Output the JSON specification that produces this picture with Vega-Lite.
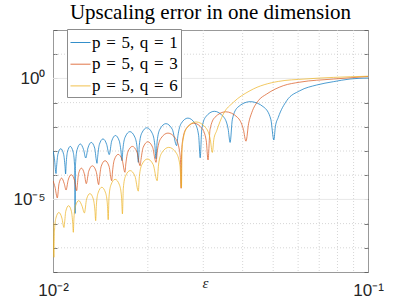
{
  "$schema": "https://vega.github.io/schema/vega-lite/v6.json",
  "width": 315,
  "height": 242,
  "autosize": {"type": "none"},
  "padding": {"left": 53, "top": 30, "right": 39, "bottom": 33},
  "background": "white",
  "title": {"text": "Upscaling error in one dimension", "font": "Liberation Serif", "fontSize": 21, "fontWeight": "normal", "color": "#000000", "anchor": "middle", "frame": "group", "baseline": "alphabetic", "offset": 3, "dy": 21.5},
  "config": {"view": {"stroke": "#999999", "strokeWidth": 1}},
  "datasets": {
    "ygrid": [{"y": 1e-7}, {"y": 1e-6}, {"y": 1e-4}, {"y": 1e-3}, {"y": 1e-2}, {"y": 1e-1}, {"y": 10}],
    "ymajor": [{"y": 1}, {"y": 1e-5}],
    "xgrid": [{"x": 0.02}, {"x": 0.03}, {"x": 0.04}, {"x": 0.05}, {"x": 0.06}, {"x": 0.07}, {"x": 0.08}, {"x": 0.09}],
    "curves": [
      {"e": 0.01, "v": 1.023e-3, "s": "q1"}, {"e": 0.010101, "v": 5.01e-4, "s": "q1"}, {"e": 0.010225, "v": 1.17e-4, "s": "q1"},
      {"e": 0.010267, "v": 2.33e-4, "s": "q1"}, {"e": 0.010365, "v": 7.31e-4, "s": "q1"}, {"e": 0.010582, "v": 1.245e-3, "s": "q1"},
      {"e": 0.010808, "v": 7.31e-4, "s": "q1"}, {"e": 0.010917, "v": 2.33e-4, "s": "q1"}, {"e": 0.010965, "v": 1.122e-4, "s": "q1"},
      {"e": 0.011009, "v": 2.9e-4, "s": "q1"}, {"e": 0.011113, "v": 9.1e-4, "s": "q1"}, {"e": 0.011344, "v": 1.549e-3, "s": "q1"},
      {"e": 0.011585, "v": 9.1e-4, "s": "q1"}, {"e": 0.0117, "v": 2.9e-4, "s": "q1"}, {"e": 0.011734, "v": 9.77e-5, "s": "q1"},
      {"e": 0.011751, "v": 2.63e-6, "s": "q1"}, {"e": 0.011769, "v": 1.23e-4, "s": "q1"}, {"e": 0.011804, "v": 3.66e-4, "s": "q1"},
      {"e": 0.01193, "v": 1.146e-3, "s": "q1"}, {"e": 0.01221, "v": 1.95e-3, "s": "q1"}, {"e": 0.012503, "v": 1.146e-3, "s": "q1"},
      {"e": 0.012706, "v": 5.13e-4, "s": "q1"}, {"e": 0.01291, "v": 1.33e-3, "s": "q1"}, {"e": 0.013228, "v": 2.26e-3, "s": "q1"},
      {"e": 0.013561, "v": 1.33e-3, "s": "q1"}, {"e": 0.013723, "v": 4.25e-4, "s": "q1"}, {"e": 0.013793, "v": 3.09e-4, "s": "q1"},
      {"e": 0.013864, "v": 5.93e-4, "s": "q1"}, {"e": 0.014033, "v": 1.858e-3, "s": "q1"}, {"e": 0.014409, "v": 3.162e-3, "s": "q1"},
      {"e": 0.014806, "v": 1.858e-3, "s": "q1"}, {"e": 0.015083, "v": 7.08e-4, "s": "q1"}, {"e": 0.015356, "v": 2.56e-3, "s": "q1"},
      {"e": 0.015785, "v": 4.37e-3, "s": "q1"}, {"e": 0.016239, "v": 2.56e-3, "s": "q1"}, {"e": 0.016461, "v": 8.18e-4, "s": "q1"},
      {"e": 0.016556, "v": 3.98e-4, "s": "q1"}, {"e": 0.016669, "v": 1.183e-3, "s": "q1"}, {"e": 0.016938, "v": 3.71e-3, "s": "q1"},
      {"e": 0.017544, "v": 6.31e-3, "s": "q1"}, {"e": 0.018195, "v": 3.71e-3, "s": "q1"}, {"e": 0.018515, "v": 1.183e-3, "s": "q1"},
      {"e": 0.018657, "v": 3.39e-4, "s": "q1"}, {"e": 0.018793, "v": 1.71e-3, "s": "q1"}, {"e": 0.01912, "v": 5.36e-3, "s": "q1"},
      {"e": 0.019861, "v": 9.12e-3, "s": "q1"}, {"e": 0.020661, "v": 5.36e-3, "s": "q1"}, {"e": 0.021057, "v": 1.71e-3, "s": "q1"},
      {"e": 0.021231, "v": 4.79e-4, "s": "q1"}, {"e": 0.021413, "v": 2.53e-3, "s": "q1"}, {"e": 0.021844, "v": 7.93e-3, "s": "q1"},
      {"e": 0.022831, "v": 1.349e-2, "s": "q1"}, {"e": 0.023912, "v": 7.93e-3, "s": "q1"}, {"e": 0.024691, "v": 1.66e-3, "s": "q1"},
      {"e": 0.024925, "v": 4.3e-3, "s": "q1"}, {"e": 0.025497, "v": 1.346e-2, "s": "q1"}, {"e": 0.02681, "v": 2.29e-2, "s": "q1"},
      {"e": 0.028264, "v": 1.346e-2, "s": "q1"}, {"e": 0.029002, "v": 4.3e-3, "s": "q1"}, {"e": 0.029326, "v": 5.25e-4, "s": "q1"},
      {"e": 0.029674, "v": 8.18e-3, "s": "q1"}, {"e": 0.030525, "v": 2.56e-2, "s": "q1"}, {"e": 0.03252, "v": 4.37e-2, "s": "q1"},
      {"e": 0.034795, "v": 2.56e-2, "s": "q1"}, {"e": 0.035971, "v": 8.18e-3, "s": "q1"}, {"e": 0.036496, "v": 2.26e-3, "s": "q1"},
      {"e": 0.037106, "v": 2.06e-2, "s": "q1"}, {"e": 0.03861, "v": 6.44e-2, "s": "q1"}, {"e": 0.042283, "v": 0.1096, "s": "q1"},
      {"e": 0.046729, "v": 6.44e-2, "s": "q1"}, {"e": 0.04914, "v": 2.06e-2, "s": "q1"}, {"e": 0.050251, "v": 2.85e-3, "s": "q1"},
      {"e": 0.0508, "v": 1.0e-2, "s": "q1"}, {"e": 0.0519, "v": 2.45e-2, "s": "q1"}, {"e": 0.0552, "v": 0.12, "s": "q1"},
      {"e": 0.0608, "v": 0.31, "s": "q1"}, {"e": 0.0687, "v": 0.533, "s": "q1"}, {"e": 0.0776, "v": 0.731, "s": "q1"},
      {"e": 0.0877, "v": 0.944, "s": "q1"}, {"e": 0.1, "v": 1.04, "s": "q1"},

      {"e": 0.01, "v": 5.89e-5, "s": "q3"}, {"e": 0.010152, "v": 3.16e-5, "s": "q3"}, {"e": 0.01032, "v": 1.148e-5, "s": "q3"},
      {"e": 0.010449, "v": 4.46e-5, "s": "q3"}, {"e": 0.01065, "v": 7.59e-5, "s": "q3"}, {"e": 0.010858, "v": 4.46e-5, "s": "q3"},
      {"e": 0.011001, "v": 2.45e-5, "s": "q3"}, {"e": 0.011168, "v": 6.15e-5, "s": "q3"}, {"e": 0.011429, "v": 1.047e-4, "s": "q3"},
      {"e": 0.011701, "v": 6.15e-5, "s": "q3"}, {"e": 0.011891, "v": 2.29e-5, "s": "q3"}, {"e": 0.011939, "v": 3.66e-5, "s": "q3"},
      {"e": 0.012054, "v": 1.146e-4, "s": "q3"}, {"e": 0.012308, "v": 1.95e-4, "s": "q3"}, {"e": 0.012572, "v": 1.146e-4, "s": "q3"},
      {"e": 0.012755, "v": 4.47e-5, "s": "q3"}, {"e": 0.01298, "v": 1.442e-4, "s": "q3"}, {"e": 0.013333, "v": 2.45e-4, "s": "q3"},
      {"e": 0.013706, "v": 1.442e-4, "s": "q3"}, {"e": 0.013966, "v": 4.07e-5, "s": "q3"}, {"e": 0.014043, "v": 7.46e-5, "s": "q3"},
      {"e": 0.014225, "v": 2.34e-4, "s": "q3"}, {"e": 0.014631, "v": 3.98e-4, "s": "q3"}, {"e": 0.01506, "v": 2.34e-4, "s": "q3"},
      {"e": 0.015361, "v": 5.89e-5, "s": "q3"}, {"e": 0.015446, "v": 1.358e-4, "s": "q3"}, {"e": 0.015649, "v": 4.26e-4, "s": "q3"},
      {"e": 0.016103, "v": 7.24e-4, "s": "q3"}, {"e": 0.016584, "v": 4.26e-4, "s": "q3"}, {"e": 0.01692, "v": 1.318e-4, "s": "q3"},
      {"e": 0.017027, "v": 2.9e-4, "s": "q3"}, {"e": 0.017283, "v": 9.1e-4, "s": "q3"}, {"e": 0.017857, "v": 1.549e-3, "s": "q3"},
      {"e": 0.01847, "v": 9.1e-4, "s": "q3"}, {"e": 0.018904, "v": 2.45e-4, "s": "q3"}, {"e": 0.019029, "v": 4.5e-4, "s": "q3"},
      {"e": 0.019327, "v": 1.41e-3, "s": "q3"}, {"e": 0.02, "v": 2.4e-3, "s": "q3"}, {"e": 0.020721, "v": 1.41e-3, "s": "q3"},
      {"e": 0.021075, "v": 4.5e-4, "s": "q3"}, {"e": 0.021231, "v": 3.39e-4, "s": "q3"}, {"e": 0.021445, "v": 1.03e-3, "s": "q3"},
      {"e": 0.021968, "v": 3.23e-3, "s": "q3"}, {"e": 0.023175, "v": 5.5e-3, "s": "q3"}, {"e": 0.024522, "v": 3.23e-3, "s": "q3"},
      {"e": 0.025208, "v": 1.03e-3, "s": "q3"}, {"e": 0.025407, "v": 3.47e-4, "s": "q3"}, {"e": 0.02551, "v": 2.88e-5, "s": "q3"},
      {"e": 0.025602, "v": 8.91e-4, "s": "q3"}, {"e": 0.025786, "v": 2.65e-3, "s": "q3"}, {"e": 0.026455, "v": 8.3e-3, "s": "q3"},
      {"e": 0.028011, "v": 1.413e-2, "s": "q3"}, {"e": 0.029762, "v": 8.3e-3, "s": "q3"}, {"e": 0.030656, "v": 2.65e-3, "s": "q3"},
      {"e": 0.031056, "v": 4.27e-4, "s": "q3"}, {"e": 0.031516, "v": 7.82e-3, "s": "q3"}, {"e": 0.032637, "v": 2.45e-2, "s": "q3"},
      {"e": 0.035336, "v": 4.17e-2, "s": "q3"}, {"e": 0.038521, "v": 2.45e-2, "s": "q3"}, {"e": 0.040209, "v": 7.82e-3, "s": "q3"},
      {"e": 0.040984, "v": 2.54e-3, "s": "q3"}, {"e": 0.0418, "v": 1.41e-2, "s": "q3"}, {"e": 0.04274, "v": 0.038, "s": "q3"},
      {"e": 0.04485, "v": 0.12, "s": "q3"}, {"e": 0.04769, "v": 0.226, "s": "q3"}, {"e": 0.05384, "v": 0.5, "s": "q3"},
      {"e": 0.0608, "v": 0.7, "s": "q3"}, {"e": 0.0776, "v": 0.94, "s": "q3"}, {"e": 0.1, "v": 1.2, "s": "q3"},

      {"e": 0.01, "v": 1.096e-6, "s": "q6"}, {"e": 0.01007, "v": 4.07e-8, "s": "q6"}, {"e": 0.010085, "v": 1.82e-7, "s": "q6"},
      {"e": 0.010113, "v": 5.41e-7, "s": "q6"}, {"e": 0.010215, "v": 1.694e-6, "s": "q6"}, {"e": 0.010438, "v": 2.88e-6, "s": "q6"},
      {"e": 0.010672, "v": 1.694e-6, "s": "q6"}, {"e": 0.010834, "v": 6.92e-7, "s": "q6"}, {"e": 0.010878, "v": 1.03e-6, "s": "q6"},
      {"e": 0.010979, "v": 3.23e-6, "s": "q6"}, {"e": 0.011204, "v": 5.5e-6, "s": "q6"}, {"e": 0.011439, "v": 3.23e-6, "s": "q6"},
      {"e": 0.011551, "v": 1.03e-6, "s": "q6"}, {"e": 0.011601, "v": 4.37e-7, "s": "q6"}, {"e": 0.011655, "v": 1.67e-6, "s": "q6"},
      {"e": 0.011784, "v": 5.24e-6, "s": "q6"}, {"e": 0.01207, "v": 8.91e-6, "s": "q6"}, {"e": 0.01237, "v": 5.24e-6, "s": "q6"},
      {"e": 0.012579, "v": 2.75e-6, "s": "q6"}, {"e": 0.012781, "v": 1.02e-5, "s": "q6"}, {"e": 0.013098, "v": 1.738e-5, "s": "q6"},
      {"e": 0.01343, "v": 1.02e-5, "s": "q6"}, {"e": 0.013591, "v": 3.26e-6, "s": "q6"}, {"e": 0.013661, "v": 1.318e-6, "s": "q6"},
      {"e": 0.013733, "v": 5.93e-6, "s": "q6"}, {"e": 0.013904, "v": 1.858e-5, "s": "q6"}, {"e": 0.014286, "v": 3.162e-5, "s": "q6"},
      {"e": 0.014689, "v": 1.858e-5, "s": "q6"}, {"e": 0.014885, "v": 5.93e-6, "s": "q6"}, {"e": 0.01497, "v": 1.445e-6, "s": "q6"},
      {"e": 0.01506, "v": 1.268e-5, "s": "q6"}, {"e": 0.015272, "v": 3.97e-5, "s": "q6"}, {"e": 0.015748, "v": 6.76e-5, "s": "q6"},
      {"e": 0.016255, "v": 3.97e-5, "s": "q6"}, {"e": 0.016502, "v": 1.268e-5, "s": "q6"}, {"e": 0.016611, "v": 2.51e-6, "s": "q6"},
      {"e": 0.016722, "v": 2.9e-5, "s": "q6"}, {"e": 0.016984, "v": 9.1e-5, "s": "q6"}, {"e": 0.017575, "v": 1.549e-4, "s": "q6"},
      {"e": 0.018208, "v": 9.1e-5, "s": "q6"}, {"e": 0.018657, "v": 2.19e-5, "s": "q6"}, {"e": 0.018801, "v": 8.77e-5, "s": "q6"},
      {"e": 0.01915, "v": 2.75e-4, "s": "q6"}, {"e": 0.01994, "v": 4.68e-4, "s": "q6"}, {"e": 0.020799, "v": 2.75e-4, "s": "q6"},
      {"e": 0.021413, "v": 5.89e-5, "s": "q6"}, {"e": 0.021626, "v": 2.65e-4, "s": "q6"}, {"e": 0.022134, "v": 8.3e-4, "s": "q6"},
      {"e": 0.02331, "v": 1.413e-3, "s": "q6"}, {"e": 0.024618, "v": 8.3e-4, "s": "q6"}, {"e": 0.025278, "v": 2.65e-4, "s": "q6"},
      {"e": 0.025575, "v": 3.02e-5, "s": "q6"}, {"e": 0.025681, "v": 1.0e-3, "s": "q6"}, {"e": 0.025887, "v": 2.97e-3, "s": "q6"},
      {"e": 0.026652, "v": 9.31e-3, "s": "q6"}, {"e": 0.02845, "v": 1.585e-2, "s": "q6"}, {"e": 0.030506, "v": 9.31e-3, "s": "q6"},
      {"e": 0.031576, "v": 2.97e-3, "s": "q6"}, {"e": 0.032051, "v": 8.71e-4, "s": "q6"}, {"e": 0.0324, "v": 3.0e-3, "s": "q6"},
      {"e": 0.03309, "v": 6.9e-3, "s": "q6"}, {"e": 0.03473, "v": 0.0339, "s": "q6"}, {"e": 0.03736, "v": 0.102, "s": "q6"},
      {"e": 0.04221, "v": 0.31, "s": "q6"}, {"e": 0.0519, "v": 0.75, "s": "q6"}, {"e": 0.0631, "v": 0.944, "s": "q6"},
      {"e": 0.0776, "v": 1.1, "s": "q6"}, {"e": 0.1, "v": 1.23, "s": "q6"}
    ]
  },
  "layer": [
    {
      "data": {"name": "ygrid"},
      "mark": {"type": "rule", "color": "#cccccc", "strokeWidth": 0.8, "strokeDash": [1, 2]},
      "encoding": {
        "y": {"field": "y", "type": "quantitative", "scale": {"type": "log", "domain": [1e-8, 100]},
          "axis": {"orient": "right", "values": [1e-8, 1e-7, 1e-6, 1e-5, 1e-4, 1e-3, 1e-2, 1e-1, 1, 10, 100], "labels": false, "domain": false, "grid": false, "tickSize": -4, "tickColor": "#555555", "tickWidth": 0.8, "title": null}}
      }
    },
    {
      "data": {"name": "ymajor"},
      "mark": {"type": "rule", "color": "#e8e8e8", "strokeWidth": 1},
      "encoding": {
        "y": {"field": "y", "type": "quantitative", "scale": {"type": "log", "domain": [1e-8, 100]}, "axis": null}
      }
    },
    {
      "data": {"name": "xgrid"},
      "mark": {"type": "rule", "color": "#cccccc", "strokeWidth": 0.8, "strokeDash": [1, 2]},
      "encoding": {
        "x": {"field": "x", "type": "quantitative", "scale": {"type": "log", "domain": [0.01, 0.1]}, "axis": null}
      }
    },
    {
      "data": {"name": "curves"},
      "mark": {"type": "line", "strokeWidth": 0.7, "interpolate": "monotone", "clip": true},
      "encoding": {
        "x": {"field": "e", "type": "quantitative", "scale": {"type": "log", "domain": [0.01, 0.1]},
          "axis": {"orient": "bottom", "values": [0.01, 0.1], "labelExpr": "datum.value == 0.01 ? '10\u207B\u00B2' : '10\u207B\u00B9'", "labelFlush": false, "labelOverlap": false, "ticks": false, "domain": false, "grid": false, "labelFont": "Liberation Sans", "labelFontSize": 17, "labelColor": "#262626", "labelPadding": 10,
            "title": "\u03B5", "titleFont": "Liberation Serif", "titleFontStyle": "italic", "titleFontWeight": "normal", "titleFontSize": 15, "titleColor": "#262626", "titleX": 152, "titleY": 15, "titleBaseline": "alphabetic", "titleAlign": "center"}},
        "y": {"field": "v", "type": "quantitative", "scale": {"type": "log", "domain": [1e-8, 100]},
          "axis": {"orient": "left", "values": [1e-8, 1e-7, 1e-6, 1e-5, 1e-4, 1e-3, 1e-2, 1e-1, 1, 10, 100], "labelExpr": "datum.value == 1 ? '10\u2070' : (datum.value == 0.00001 ? '10\u207B\u2075' : '')", "labelOverlap": false, "tickSize": -4, "tickColor": "#555555", "tickWidth": 0.8, "domain": false, "grid": false, "labelFont": "Liberation Sans", "labelFontSize": 17, "labelColor": "#262626", "labelPadding": 12, "title": null}},
        "color": {"field": "s", "type": "nominal",
          "scale": {"domain": ["q1", "q3", "q6"], "range": ["#0072BD", "#D95319", "#EDB120"]},
          "legend": {"orient": "none", "legendX": 14, "legendY": -1, "title": null, "symbolType": "stroke", "symbolSize": 400, "symbolStrokeWidth": 0.8,
            "labelExpr": "datum.label == 'q1' ? 'p\u2004=\u20045,\u2004q\u2004=\u20041' : (datum.label == 'q3' ? 'p\u2004=\u20045,\u2004q\u2004=\u20043' : 'p\u2004=\u20045,\u2004q\u2004=\u20046')",
            "labelFont": "Liberation Serif", "labelFontSize": 17, "labelColor": "#000000", "labelOffset": 1, "padding": 3, "rowPadding": 2.7, "strokeColor": "#8c8c8c", "fillColor": "#ffffff", "cornerRadius": 0}
        }
      }
    }
  ],
  "resolve": {"axis": {"x": "independent", "y": "independent"}}
}
